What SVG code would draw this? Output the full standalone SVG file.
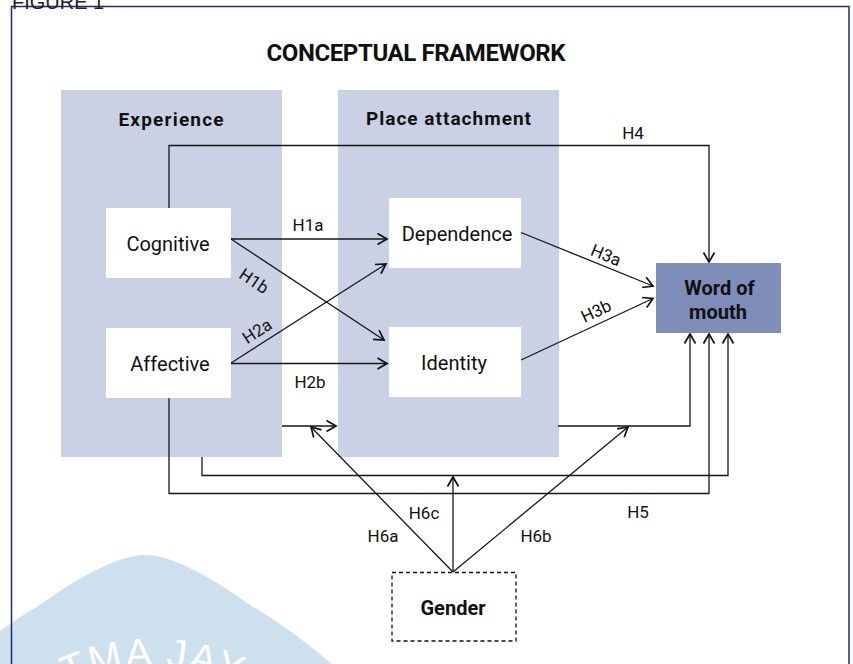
<svg xmlns="http://www.w3.org/2000/svg" width="853" height="664" viewBox="0 0 853 664">
<style>
text{font-family:Roboto,"Liberation Sans",sans-serif;fill:#111}
.title{font-size:24px;font-weight:bold;text-anchor:middle}
.hdr{font-size:19px;font-weight:bold;text-anchor:middle}
.node{font-size:20px;text-anchor:middle}
.bnode{font-size:20px;font-weight:bold;text-anchor:middle}
.lbl{font-size:17px;text-anchor:middle}
.panel{fill:#cbd1e4}
.box{fill:#ffffff}
.conn{fill:none;stroke:#161616;stroke-width:1.3}
.arr{marker-end:url(#ah)}
</style>
<defs>
<marker id="ah" viewBox="-11 -7 13 14" refX="0" refY="0" markerWidth="13" markerHeight="14" markerUnits="userSpaceOnUse" orient="auto">
<path d="M-9.5,-5.5 L0,0 L-9.5,5.5" fill="none" stroke="#111" stroke-width="1.7"/>
</marker>
<path id="wmarc" d="M-47,866 A200,200 0 0 1 353,866"/>
</defs>
<rect width="853" height="664" fill="#ffffff"/>
<g id="watermark">
<path d="M145,555 C175,555 220,583 253,607 C283,623.5 330,660 360,690 L360,700 L-70,700 L-70,690 C-40,660 7,623.5 37,607 C70,583 115,555 145,555 Z" fill="#cce0ed"/>
<text font-size="40" letter-spacing="2" style="font-family:'Liberation Sans',Arial,sans-serif;fill:#ffffff"><textPath href="#wmarc" startOffset="50%" text-anchor="middle">ATMA JAYA</textPath></text>
</g>
<rect x="11.5" y="6.5" width="837.5" height="700" fill="none" stroke="#1f2a78" stroke-width="1.5"/>
<text x="12" y="9" style="font-size:20px;font-family:'Liberation Sans',Arial,sans-serif;fill:#222">FIGURE 1</text>
<text class="title" x="416" y="61" textLength="299">CONCEPTUAL FRAMEWORK</text>
<g id="experience">
<rect class="panel" x="61" y="90" width="221" height="367"/>
<text class="hdr" x="171" y="125.5" textLength="105">Experience</text>
</g>
<g id="place-attachment">
<rect class="panel" x="338" y="90" width="221" height="367"/>
<text class="hdr" x="448.5" y="125" textLength="165">Place attachment</text>
</g>
<g id="connectors">
<polyline class="conn arr" points="169,208 169,145.5 709,145.5 709,262"/>
<line class="conn arr" x1="231" y1="239" x2="387" y2="239"/>
<line class="conn arr" x1="231" y1="239" x2="384" y2="340"/>
<line class="conn arr" x1="231" y1="363" x2="386" y2="264"/>
<line class="conn arr" x1="231" y1="363.5" x2="387" y2="363.5"/>
<line class="conn arr" x1="521" y1="232.5" x2="653" y2="286"/>
<line class="conn arr" x1="521" y1="360" x2="653" y2="298.5"/>
<line class="conn arr" x1="282" y1="426" x2="336" y2="426"/>
<polyline class="conn arr" points="558,426 690,426 690,334"/>
<polyline class="conn arr" points="202,457 202,475.5 728,475.5 728,334"/>
<polyline class="conn arr" points="169,398 169,493.5 709,493.5 709,334"/>
<line class="conn arr" x1="453" y1="572" x2="453" y2="477"/>
<line class="conn arr" x1="453" y1="572" x2="311" y2="427"/>
<line class="conn arr" x1="453" y1="572" x2="628" y2="427"/>
<text class="lbl" x="633" y="139">H4</text>
<text class="lbl" x="308" y="231">H1a</text>
<text class="lbl" transform="translate(254,281) rotate(34)" y="6">H1b</text>
<text class="lbl" transform="translate(257,331) rotate(-33)" y="6">H2a</text>
<text class="lbl" x="310" y="387.5">H2b</text>
<text class="lbl" transform="translate(606,255) rotate(22)" y="6">H3a</text>
<text class="lbl" transform="translate(596,311) rotate(-25)" y="6">H3b</text>
<text class="lbl" x="638" y="517.5">H5</text>
<text class="lbl" x="383" y="542">H6a</text>
<text class="lbl" x="424" y="518.5">H6c</text>
<text class="lbl" x="536" y="542">H6b</text>
</g>
<g id="cognitive">
<rect class="box" x="106" y="208" width="125" height="70"/>
<text class="node" x="168" y="250.5">Cognitive</text>
</g>
<g id="affective">
<rect class="box" x="106" y="328" width="125" height="70"/>
<text class="node" x="170" y="370.5">Affective</text>
</g>
<g id="dependence">
<rect class="box" x="389" y="198" width="132" height="70"/>
<text class="node" x="457" y="240.5">Dependence</text>
</g>
<g id="identity">
<rect class="box" x="389" y="327" width="132" height="70"/>
<text class="node" x="454" y="370">Identity</text>
</g>
<g id="word-of-mouth">
<rect x="656" y="263" width="125" height="70" fill="#7f8db9"/>
<text class="bnode" x="719.5" y="295">Word of</text>
<text class="bnode" x="718" y="319">mouth</text>
</g>
<g id="gender">
<rect x="392" y="572.5" width="124" height="68.5" fill="none" stroke="#111" stroke-width="1.3" stroke-dasharray="4,3"/>
<text class="bnode" x="453" y="615">Gender</text>
</g>
</svg>
